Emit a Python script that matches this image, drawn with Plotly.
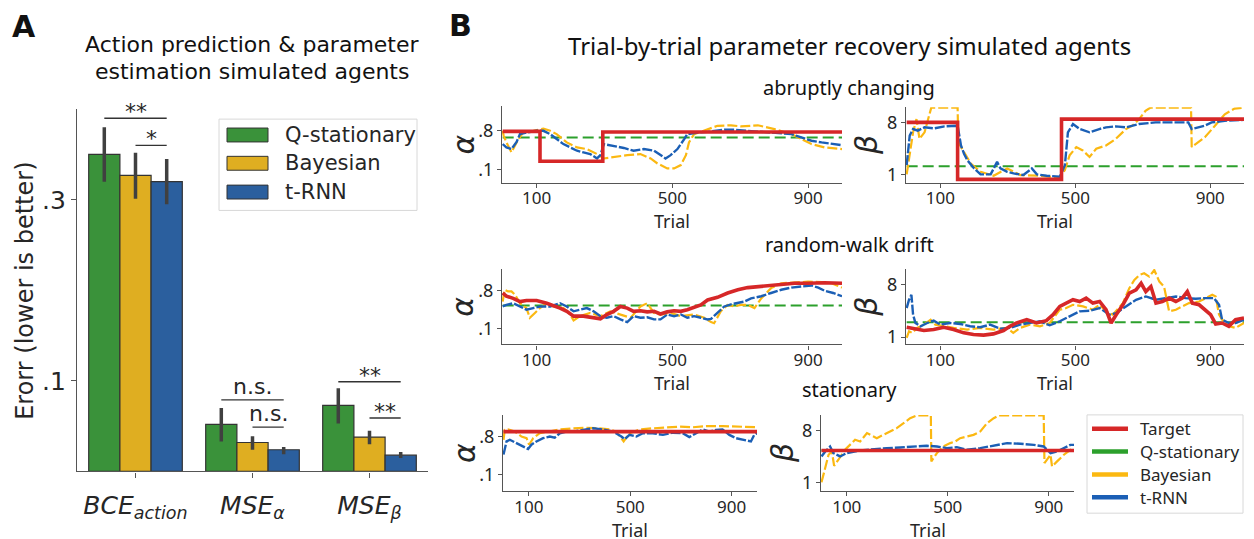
import plotly.graph_objects as go

# ================= Panel A data =================
metrics = ["BCE_action", "MSE_alpha", "MSE_beta"]
metric_labels = ["<i>BCE</i><sub><i>action</i></sub>",
                 "<i>MSE</i><sub><i>α</i></sub>",
                 "<i>MSE</i><sub><i>β</i></sub>"]
models = ["Q-stationary", "Bayesian", "t-RNN"]
q_stationary_mean = [0.350, 0.052, 0.073]
q_stationary_lo = [0.320, 0.033, 0.053]
q_stationary_hi = [0.380, 0.070, 0.092]
bayesian_mean = [0.327, 0.032, 0.038]
bayesian_lo = [0.301, 0.024, 0.030]
bayesian_hi = [0.352, 0.039, 0.045]
trnn_mean = [0.320, 0.024, 0.018]
trnn_lo = [0.295, 0.019, 0.015]
trnn_hi = [0.345, 0.027, 0.0215]
a_yticks = [0.1, 0.3]
a_yticktext = [".1", ".3"]

# significance brackets
sig_metric = [0, 0, 1, 1, 2, 2]
sig_from = [0, 1, 0, 1, 0, 1]
sig_to = [2, 2, 2, 2, 2, 2]
sig_level = [0.390, 0.360, 0.079, 0.049, 0.099, 0.059]
sig_label = ["**", "*", "n.s.", "n.s.", "**", "**"]

# ================= Panel B data =================
# --- abruptly changing ---
abrupt_alpha_target_trials = [0, 110, 295, 1000]
abrupt_alpha_target = [0.79, 0.25, 0.78, 0.78]
abrupt_alpha_qstat = 0.68
abrupt_alpha_bayes_trials = [0, 3, 11, 26, 41, 60, 90, 120, 140, 159, 189, 219, 248, 278, 298, 327, 367, 406, 436, 456,
                             485, 505, 525, 540, 549, 564, 604, 633, 673, 702, 752, 801, 851, 880, 910, 949, 1000]
abrupt_alpha_bayes = [0.80, 0.71, 0.59, 0.41, 0.59, 0.77, 0.80, 0.84, 0.80, 0.74, 0.59, 0.50, 0.47, 0.38, 0.30, 0.33,
                      0.36, 0.38, 0.30, 0.21, 0.12, 0.12, 0.18, 0.36, 0.59, 0.74, 0.83, 0.89, 0.90, 0.88, 0.90, 0.83,
                      0.74, 0.65, 0.56, 0.50, 0.47]
abrupt_alpha_trnn_trials = [0, 11, 26, 41, 51, 70, 100, 120, 140, 159, 179, 199, 219, 238, 258, 278, 288, 298, 327, 357,
                            386, 416, 446, 465, 480, 495, 515, 535, 544, 574, 604, 653, 683, 722, 762, 801, 851, 880,
                            910, 940, 969, 1000]
abrupt_alpha_trnn = [0.56, 0.50, 0.47, 0.60, 0.74, 0.77, 0.80, 0.80, 0.74, 0.65, 0.56, 0.50, 0.44, 0.41, 0.38, 0.30,
                     0.36, 0.56, 0.53, 0.49, 0.44, 0.47, 0.44, 0.36, 0.30, 0.36, 0.47, 0.65, 0.74, 0.77, 0.78, 0.82,
                     0.82, 0.80, 0.78, 0.77, 0.74, 0.68, 0.62, 0.59, 0.56, 0.54]

abrupt_beta_target_trials = [0, 151, 459, 1000]
abrupt_beta_target = [8.0, 0.33, 8.44, 8.44]
abrupt_beta_qstat = 2.1
abrupt_beta_bayes_trials = [0, 9, 19, 29, 38, 53, 65, 73, 151, 153, 170, 190, 219, 258, 298, 337, 395, 454, 469, 483,
                            503, 522, 542, 562, 591, 620, 650, 669, 689, 708, 723, 843, 845, 865, 884, 914, 943, 972,
                            1000]
abrupt_beta_bayes = [1.0, 3.57, 6.67, 8.44, 5.78, 6.67, 8.89, 10.0, 10.0, 5.34, 4.01, 2.46, 1.35, 0.82, 1.8, 0.91,
                     0.82, 0.56, 1.58, 3.57, 4.68, 4.23, 3.35, 4.46, 4.9, 5.78, 7.11, 7.56, 8.44, 9.55, 10.0, 10.0,
                     4.68, 5.34, 6.0, 7.56, 9.1, 9.86, 10.0]
abrupt_beta_trnn_trials = [0, 9, 19, 33, 53, 82, 112, 141, 151, 161, 170, 180, 200, 219, 249, 268, 278, 298, 317, 346,
                           371, 386, 415, 454, 469, 478, 493, 513, 542, 571, 591, 620, 650, 689, 738, 787, 835, 845,
                           865, 884, 904, 943, 1000]
abrupt_beta_trnn = [2.24, 6.23, 7.11, 6.89, 7.34, 7.2, 7.47, 7.56, 7.56, 4.9, 3.79, 2.9, 1.8, 1.0, 1.0, 2.68, 1.8,
                    1.35, 1.13, 0.91, 1.8, 1.0, 0.82, 0.69, 2.24, 6.67, 7.78, 7.11, 6.67, 7.11, 7.34, 7.47, 7.34,
                    7.78, 8.0, 8.0, 8.0, 7.11, 7.34, 7.56, 8.0, 8.22, 8.35]

# --- random-walk drift ---
rw_alpha_target_trials = [0, 11, 31, 51, 70, 100, 130, 149, 169, 189, 209, 238, 268, 288, 307, 327, 347, 367, 386, 406,
                          426, 446, 465, 485, 505, 525, 544, 564, 584, 604, 633, 663, 693, 722, 762, 791, 831, 860, 900,
                          949, 1000]
rw_alpha_target = [0.76, 0.70, 0.66, 0.60, 0.62, 0.62, 0.57, 0.53, 0.48, 0.42, 0.33, 0.33, 0.31, 0.28, 0.36, 0.42,
                   0.51, 0.48, 0.42, 0.43, 0.41, 0.42, 0.37, 0.41, 0.43, 0.42, 0.45, 0.49, 0.54, 0.63, 0.68, 0.76,
                   0.82, 0.86, 0.88, 0.91, 0.92, 0.94, 0.94, 0.95, 0.94]
rw_alpha_qstat = 0.53
rw_alpha_bayes_trials = [0, 6, 16, 26, 36, 51, 70, 80, 95, 110, 130, 149, 179, 199, 209, 228, 258, 288, 317, 347, 377,
                         406, 426, 446, 465, 495, 525, 564, 594, 614, 623, 643, 663, 683, 702, 722, 742, 762, 791, 821,
                         860, 900, 940, 969, 1000]
rw_alpha_bayes = [0.60, 0.82, 0.79, 0.79, 0.73, 0.57, 0.48, 0.30, 0.39, 0.48, 0.57, 0.51, 0.48, 0.36, 0.25, 0.33, 0.39,
                  0.33, 0.42, 0.36, 0.30, 0.51, 0.57, 0.39, 0.36, 0.39, 0.33, 0.36, 0.30, 0.22, 0.20, 0.42, 0.54, 0.51,
                  0.54, 0.54, 0.48, 0.66, 0.85, 0.94, 0.96, 0.97, 0.96, 0.94, 0.86]
rw_alpha_trnn_trials = [0, 11, 31, 51, 70, 90, 110, 140, 169, 189, 209, 228, 248, 268, 288, 307, 327, 347, 367, 386,
                        406, 426, 446, 465, 485, 505, 525, 544, 564, 584, 604, 614, 633, 653, 673, 693, 712, 732, 762,
                        791, 821, 851, 880, 910, 930, 949, 974, 1000]
rw_alpha_trnn = [0.51, 0.54, 0.57, 0.51, 0.45, 0.48, 0.51, 0.51, 0.57, 0.51, 0.42, 0.45, 0.48, 0.42, 0.33, 0.30, 0.33,
                 0.27, 0.22, 0.33, 0.30, 0.31, 0.27, 0.27, 0.36, 0.33, 0.36, 0.30, 0.33, 0.30, 0.27, 0.28, 0.39, 0.51,
                 0.55, 0.57, 0.60, 0.66, 0.70, 0.76, 0.82, 0.86, 0.88, 0.90, 0.86, 0.80, 0.76, 0.70]

rw_beta_target_trials = [0, 21, 51, 80, 110, 139, 169, 198, 228, 257, 287, 306, 326, 356, 385, 414, 434, 454, 473, 493,
                         513, 532, 552, 572, 591, 606, 621, 641, 660, 680, 695, 709, 724, 739, 758, 778, 798, 817, 832,
                         847, 867, 886, 901, 916, 935, 955, 975, 1000]
rw_beta_target = [2.33, 2.15, 1.89, 2.02, 2.33, 2.02, 1.58, 1.35, 1.27, 1.44, 1.89, 2.46, 2.90, 3.35, 2.90, 3.21, 4.01,
                  5.12, 5.56, 6.01, 5.78, 6.23, 5.56, 5.78, 4.68, 2.90, 4.01, 5.34, 6.89, 7.34, 8.22, 7.11, 7.78, 5.56,
                  5.78, 6.23, 5.78, 6.23, 7.11, 5.56, 5.34, 4.68, 4.01, 2.77, 2.90, 2.46, 3.35, 3.57]
rw_beta_qstat = 3.0
rw_beta_bayes_trials = [0, 7, 16, 31, 51, 71, 85, 110, 139, 179, 218, 257, 297, 316, 336, 365, 395, 424, 454, 473, 493,
                        523, 552, 572, 591, 611, 641, 660, 675, 690, 704, 719, 734, 749, 763, 778, 798, 817, 837, 867,
                        886, 906, 916, 926, 935, 955, 975, 1000]
rw_beta_bayes = [0.91, 1.80, 1.58, 2.24, 2.68, 3.35, 2.68, 2.46, 2.24, 2.02, 2.24, 2.02, 2.24, 1.58, 2.24, 2.68, 2.46,
                 2.90, 4.68, 4.90, 5.34, 5.12, 4.68, 5.34, 4.46, 4.01, 5.56, 7.56, 8.66, 9.33, 9.55, 9.11, 9.99, 8.44,
                 7.78, 4.46, 4.68, 5.12, 5.56, 5.78, 6.23, 6.67, 6.45, 4.01, 3.35, 2.46, 2.24, 2.90]
rw_beta_trnn_trials = [0, 7, 14, 19, 26, 41, 61, 80, 100, 129, 159, 188, 218, 247, 277, 306, 336, 365, 395, 424, 454,
                       483, 513, 542, 572, 601, 621, 650, 680, 709, 739, 768, 798, 827, 857, 886, 911, 926, 935, 955,
                       975, 1000]
rw_beta_trnn = [4.90, 6.01, 6.67, 4.01, 2.90, 2.46, 2.90, 3.21, 2.68, 2.90, 2.77, 2.46, 2.33, 2.68, 2.15, 2.24, 2.68,
                2.90, 3.13, 2.59, 3.13, 3.79, 4.46, 4.54, 4.90, 4.01, 4.23, 5.12, 6.01, 6.45, 6.01, 6.23, 6.45, 6.23,
                6.14, 6.23, 6.23, 5.34, 3.35, 2.90, 2.90, 3.35]

# --- stationary ---
stat_alpha_target_trials = [0, 1000]
stat_alpha_target = [0.89, 0.89]
stat_alpha_qstat = 0.89
stat_alpha_bayes_trials = [0, 5, 18, 45, 71, 91, 101, 117, 143, 183, 222, 274, 327, 379, 419, 445, 465, 474, 497, 537,
                           589, 642, 694, 747, 799, 865, 930, 1000]
stat_alpha_bayes = [0.74, 0.92, 0.93, 0.89, 0.80, 0.77, 0.65, 0.77, 0.86, 0.89, 0.93, 0.95, 0.96, 0.95, 0.93, 0.89,
                    0.77, 0.71, 0.86, 0.93, 0.95, 0.97, 0.98, 0.97, 0.99, 0.99, 0.98, 0.97]
stat_alpha_trnn_trials = [0, 5, 12, 25, 51, 78, 97, 110, 130, 156, 183, 202, 222, 248, 274, 314, 353, 392, 432, 465, 478,
                          497, 524, 550, 589, 629, 668, 707, 733, 760, 786, 812, 838, 864, 891, 917, 943, 976, 989, 1000]
stat_alpha_trnn = [0.47, 0.59, 0.71, 0.74, 0.68, 0.62, 0.57, 0.65, 0.71, 0.77, 0.80, 0.78, 0.86, 0.89, 0.89, 0.92,
                   0.95, 0.93, 0.89, 0.80, 0.75, 0.83, 0.80, 0.86, 0.86, 0.83, 0.87, 0.86, 0.79, 0.86, 0.93, 0.89,
                   0.92, 0.93, 0.83, 0.77, 0.74, 0.71, 0.83, 0.86]

stat_beta_target_trials = [0, 1000]
stat_beta_target = [5.34, 5.34]
stat_beta_qstat = 5.34
stat_beta_bayes_trials = [0, 15, 28, 41, 50, 67, 93, 120, 133, 153, 180, 206, 219, 245, 272, 298, 325, 351, 378, 433,
                          435, 457, 483, 510, 530, 549, 576, 602, 629, 655, 682, 702, 880, 883, 907, 913, 933, 960, 986,
                          1000]
stat_beta_bayes = [1.09, 3.21, 4.77, 5.21, 3.30, 4.10, 5.43, 6.32, 6.76, 6.54, 7.65, 7.20, 6.98, 7.42, 7.87, 8.31, 8.97,
                   9.64, 10.0, 10.0, 3.88, 4.99, 5.87, 6.32, 6.54, 6.98, 7.20, 7.42, 7.87, 8.97, 9.64, 10.0, 10.0, 3.66,
                   4.77, 3.21, 3.88, 4.77, 5.43, 5.65]
stat_beta_trnn_trials = [0, 15, 34, 47, 74, 100, 153, 206, 259, 312, 364, 417, 457, 497, 536, 576, 629, 682, 735, 788,
                         841, 880, 907, 933, 960, 986, 1000]
stat_beta_trnn = [4.54, 5.21, 5.87, 4.99, 4.54, 4.99, 5.34, 5.52, 5.65, 5.74, 5.87, 5.96, 5.87, 5.65, 5.78, 5.43, 5.65,
                  5.96, 6.32, 6.23, 6.09, 5.87, 4.99, 5.21, 5.65, 6.09, 6.09]

b_xticks = [100, 500, 900]
alpha_ticks = [0.1, 0.8]
alpha_ticktext = [".1", ".8"]
beta_ticks = [1, 8]
beta_ticktext = ["1", "8"]
legend_b_names = ["Target", "Q-stationary", "Bayesian", "t-RNN"]

# ================= styling =================
W, H = 1254, 539


def px_x(p):
    return p / W


def px_y(p):
    return 1 - p / H


GREEN_BAR, YELLOW_BAR, BLUE_BAR = "#3a923a", "#dfae21", "#2b5f9e"
RED, GREEN, YELLOW, BLUE = "#d62728", "#2ca02c", "#fbb811", "#1b5fb5"
EDGE, INK, SPINE = "#333333", "#262626", "#555555"
FA = "DejaVu Sans"
FB = "Noto Sans"

fig = go.Figure()

# ---------- Panel A bars ----------
bar_sets = [(models[0], q_stationary_mean, q_stationary_lo, q_stationary_hi, GREEN_BAR),
            (models[1], bayesian_mean, bayesian_lo, bayesian_hi, YELLOW_BAR),
            (models[2], trnn_mean, trnn_lo, trnn_hi, BLUE_BAR)]
for name, mean, lo, hi, col in bar_sets:
    fig.add_trace(go.Bar(
        x=metrics, y=mean, name=name, showlegend=False,
        marker=dict(color=col, line=dict(color=EDGE, width=1.2)),
        error_y=dict(type="data", symmetric=False,
                     array=[h - m for h, m in zip(hi, mean)],
                     arrayminus=[m - l for m, l in zip(mean, lo)],
                     color="#404040", thickness=3.5, width=0),
        xaxis="x", yaxis="y"))

bar_w = 0.8 / 3
offsets = [-bar_w, 0.0, bar_w]
shapes = []
annotations = []
for m, f, t, lev, lab in zip(sig_metric, sig_from, sig_to, sig_level, sig_label):
    x0 = m + offsets[f]
    x1 = m + offsets[t]
    shapes.append(dict(type="line", xref="x", yref="y", x0=x0, x1=x1, y0=lev, y1=lev,
                       line=dict(color=EDGE, width=1.4)))
    annotations.append(dict(xref="x", yref="y", x=(x0 + x1) / 2, y=lev, text=lab, showarrow=False,
                            yanchor="bottom", yshift=(-8 if "*" in lab else -1),
                            font=dict(family=FA, size=22, color=INK)))

# ---------- Panel B lines ----------
panels = [
    (2, abrupt_alpha_target_trials, abrupt_alpha_target, "hv", abrupt_alpha_qstat,
     abrupt_alpha_bayes_trials, abrupt_alpha_bayes, abrupt_alpha_trnn_trials, abrupt_alpha_trnn),
    (3, abrupt_beta_target_trials, abrupt_beta_target, "hv", abrupt_beta_qstat,
     abrupt_beta_bayes_trials, abrupt_beta_bayes, abrupt_beta_trnn_trials, abrupt_beta_trnn),
    (4, rw_alpha_target_trials, rw_alpha_target, "linear", rw_alpha_qstat,
     rw_alpha_bayes_trials, rw_alpha_bayes, rw_alpha_trnn_trials, rw_alpha_trnn),
    (5, rw_beta_target_trials, rw_beta_target, "linear", rw_beta_qstat,
     rw_beta_bayes_trials, rw_beta_bayes, rw_beta_trnn_trials, rw_beta_trnn),
    (6, stat_alpha_target_trials, stat_alpha_target, "linear", stat_alpha_qstat,
     stat_alpha_bayes_trials, stat_alpha_bayes, stat_alpha_trnn_trials, stat_alpha_trnn),
    (7, stat_beta_target_trials, stat_beta_target, "linear", stat_beta_qstat,
     stat_beta_bayes_trials, stat_beta_bayes, stat_beta_trnn_trials, stat_beta_trnn),
]
for i, tt, tv, shp, q, bt, bv, rt, rv in panels:
    xa, ya = f"x{i}", f"y{i}"
    fig.add_trace(go.Scatter(x=[0, 1000], y=[q, q], mode="lines", showlegend=False,
                             line=dict(color=GREEN, width=2, dash="11px,5px"), xaxis=xa, yaxis=ya))
    fig.add_trace(go.Scatter(x=bt, y=bv, mode="lines", showlegend=False,
                             line=dict(color=YELLOW, width=2.2, dash="10px,3px"), xaxis=xa, yaxis=ya))
    fig.add_trace(go.Scatter(x=rt, y=rv, mode="lines", showlegend=False,
                             line=dict(color=BLUE, width=2.4, dash="10px,2px"), xaxis=xa, yaxis=ya))
    fig.add_trace(go.Scatter(x=tt, y=tv, mode="lines", showlegend=False, line_shape=shp,
                             line=dict(color=RED, width=3.6), xaxis=xa, yaxis=ya))

# ---------- axes ----------
layout_axes = {}
layout_axes["xaxis"] = dict(domain=[px_x(77), px_x(428)], anchor="y", range=[-0.5, 2.5],
                            type="category", categoryorder="array", categoryarray=metrics,
                            tickvals=metrics, ticktext=metric_labels, ticks="outside", ticklen=5,
                            tickwidth=1.3, tickcolor=SPINE, showline=True, linecolor=SPINE, linewidth=1.4,
                            showgrid=False, zeroline=False, ticklabelstandoff=6,
                            tickfont=dict(family=FA, size=25, color=INK))
layout_axes["yaxis"] = dict(domain=[px_y(475), px_y(110)], anchor="x", range=[0, 0.40],
                            tickvals=a_yticks, ticktext=a_yticktext, ticks="outside", ticklen=5,
                            tickwidth=1.3, tickcolor=SPINE, showline=True, linecolor=SPINE, linewidth=1.4,
                            showgrid=False, zeroline=False,
                            tickfont=dict(family=FA, size=25, color=INK))

b_geom = {
    2: ((502, 842), (184, 107), [-0.137, 1.245], "a"),
    3: ((906, 1244), (184, 108), [-0.11, 10.05], "b"),
    4: ((502, 842), (347, 271), [-0.194, 1.205], "a"),
    5: ((906, 1244), (347, 271), [0.03, 10.13], "b"),
    6: ((503, 757), (495, 418), [-0.204, 1.196], "a"),
    7: ((821, 1074), (495, 418), [-0.11, 10.08], "b"),
}
for i, ((x0, x1), (yb, yt), yr, kind) in b_geom.items():
    layout_axes[f"xaxis{i}"] = dict(domain=[px_x(x0), px_x(x1)], anchor=f"y{i}", range=[-2, 1000],
                                    tickvals=b_xticks, ticks="outside", ticklen=4, tickwidth=1.2,
                                    tickcolor=SPINE, showline=True, linecolor=SPINE, linewidth=1.3,
                                    showgrid=False, zeroline=False, ticklabelstandoff=-4,
                                    tickfont=dict(family=FB, size=17, color=INK))
    layout_axes[f"yaxis{i}"] = dict(domain=[px_y(yb), px_y(yt)], anchor=f"x{i}", range=yr,
                                    tickvals=alpha_ticks if kind == "a" else beta_ticks,
                                    ticktext=alpha_ticktext if kind == "a" else beta_ticktext,
                                    ticks="outside", ticklen=4, tickwidth=1.2,
                                    tickcolor=SPINE, showline=True, linecolor=SPINE, linewidth=1.3,
                                    showgrid=False, zeroline=False,
                                    tickfont=dict(family=FB, size=18, color=INK))
    # "Trial" label
    annotations.append(dict(xref="paper", yref="paper", x=px_x((x0 + x1) / 2), y=px_y(yb + 39),
                            text="Trial", showarrow=False, yanchor="middle",
                            font=dict(family=FB, size=18, color=INK)))
    # parameter label
    annotations.append(dict(xref="paper", yref="paper", x=px_x(x0 - 39), y=px_y((yb + yt) / 2),
                            text="<i>α</i>" if kind == "a" else "<i>β</i>", showarrow=False,
                            textangle=-90, xanchor="center", yanchor="middle",
                            font=dict(family=FA, size=30, color=INK)))

# ---------- texts ----------
texts = [
    ("<b>A</b>", 24, 27, FA, 30),
    ("<b>B</b>", 460, 26, FA, 30),
    ("Action prediction &amp; parameter", 252, 45, FA, 22),
    ("estimation simulated agents", 252, 72, FA, 22),
    ("Trial-by-trial parameter recovery simulated agents", 849, 46, FB, 24),
    ("abruptly changing", 849, 88, FB, 20),
    ("random-walk drift", 849, 246, FB, 20),
    ("stationary", 849, 392, FB, 20),
]
for txt, x, y, fam, sz in texts:
    annotations.append(dict(xref="paper", yref="paper", x=px_x(x), y=px_y(y), text=txt, showarrow=False,
                            xanchor="center", yanchor="middle", font=dict(family=fam, size=sz, color="#111111")))
annotations.append(dict(xref="paper", yref="paper", x=px_x(25), y=px_y(293), text="Erorr (lower is better)",
                        showarrow=False, textangle=-90, xanchor="center", yanchor="middle",
                        font=dict(family=FA, size=24, color=INK)))

# ---------- legend A (drawn) ----------
shapes.append(dict(type="rect", xref="paper", yref="paper", x0=px_x(219), x1=px_x(417), y0=px_y(212),
                   y1=px_y(120), line=dict(color="#d8d8d8", width=1), fillcolor="rgba(255,255,255,0.85)"))
for name, col, yc in zip(models, [GREEN_BAR, YELLOW_BAR, BLUE_BAR], [136, 164.5, 193.5]):
    shapes.append(dict(type="rect", xref="paper", yref="paper", x0=px_x(227), x1=px_x(268),
                       y0=px_y(yc + 7), y1=px_y(yc - 7), line=dict(color=EDGE, width=1), fillcolor=col))
    annotations.append(dict(xref="paper", yref="paper", x=px_x(283), y=px_y(yc), text=name, showarrow=False,
                            xanchor="left", yanchor="middle", font=dict(family=FA, size=21, color=INK)))

# ---------- legend B (drawn) ----------
shapes.append(dict(type="rect", xref="paper", yref="paper", x0=px_x(1087), x1=px_x(1243), y0=px_y(517),
                   y1=px_y(418), line=dict(color="#d8d8d8", width=1), fillcolor="white"))
for name, col, yc in zip(legend_b_names, [RED, GREEN, YELLOW, BLUE], [432, 455, 478, 501]):
    shapes.append(dict(type="line", xref="paper", yref="paper", x0=px_x(1092), x1=px_x(1128),
                       y0=px_y(yc), y1=px_y(yc), line=dict(color=col, width=4.5)))
    annotations.append(dict(xref="paper", yref="paper", x=px_x(1138), y=px_y(yc), text=name, showarrow=False,
                            xanchor="left", yanchor="middle", font=dict(family=FB, size=17, color=INK)))

fig.update_layout(
    width=W, height=H, autosize=False,
    margin=dict(l=0, r=0, t=0, b=0),
    paper_bgcolor="white", plot_bgcolor="white",
    barmode="group", bargap=0.2, bargroupgap=0.0,
    shapes=shapes, annotations=annotations, showlegend=False,
    **layout_axes,
)

fig.write_html("out.html", config={"displayModeBar": False},
               post_script="document.body.style.margin='0px';document.body.style.overflow='hidden';")
